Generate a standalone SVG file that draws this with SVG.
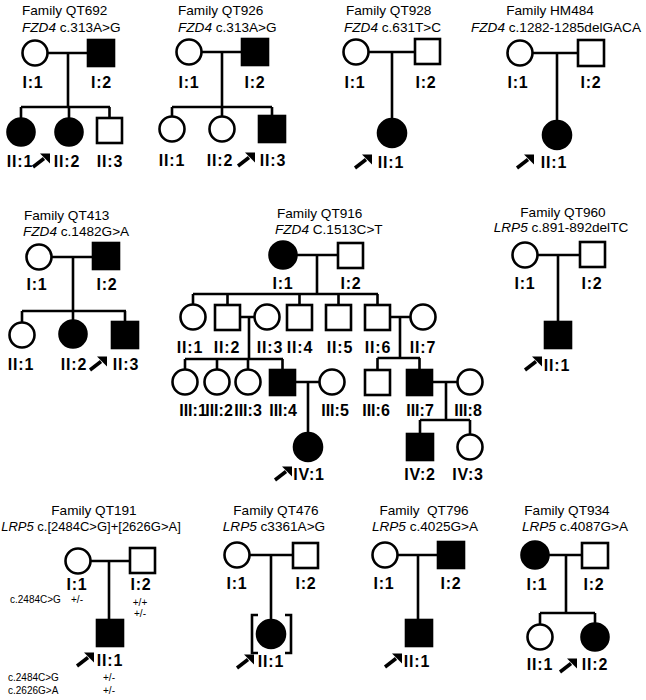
<svg xmlns="http://www.w3.org/2000/svg" xmlns:xlink="http://www.w3.org/1999/xlink" width="646" height="700" viewBox="0 0 646 700">
<style>
.c{stroke:#000;stroke-width:2.6;fill:none}
.o{fill:#fff;stroke:#000;stroke-width:2.6}
.f{fill:#000;stroke:#000;stroke-width:2.6}
text{font-family:"Liberation Sans",Arial,sans-serif;fill:#000}
.t{font-size:13.6px}
.m{text-anchor:middle}
.lab{font-size:16px;font-weight:bold;letter-spacing:0.8px;text-anchor:middle}
.l3{letter-spacing:0}
.s{font-size:10px}
</style>
<defs>
<g id="arr"><line x1="0" y1="0" x2="11" y2="-8.5" stroke="#000" stroke-width="3.5"/><polygon points="17,-13.5 7,-13.5 17,-3.5" fill="#000"/></g>
</defs>
<rect width="646" height="700" fill="#fff"/>

<g id="connectors">
<path class="c" d="M47,53H88M68,53V107M21,107H110M21,107V118M69,107V118M109.5,107V118"/>
<path class="c" d="M201,52H242M222,52V107M172,107H272M172,107V116M222,107V116M272,107V116"/>
<path class="c" d="M368,52H415M392,52V119"/>
<path class="c" d="M532,53H578M557,53V121"/>
<path class="c" d="M51,257H93M73,257V311M22,311H126M22,311V322M73,311V321M125,311V322"/>
<path class="c" d="M296,255H338M317,255V294M193,294H378M193,294V305M227.5,294V305M299.5,294V305M338.5,294V305M377.5,294V305"/>
<path class="c" d="M240,317H255M249,317V359M185,359H283M185,359V370M217,359V370M248,359V370M282.5,359V370"/>
<path class="c" d="M390,317H411M400,317V358M377.5,358H420M377.5,358V370M419.5,358V370"/>
<path class="c" d="M295,382H320M308,382V433"/>
<path class="c" d="M432,382H458M446,382V420M420,420H470M420,420V434M470,420V434"/>
<path class="c" d="M537,255H580M558,255V322"/>
<path class="c" d="M90,561H130M109,561V620"/>
<path class="c" d="M249,555H293M271,555V620"/>
<path class="c" d="M258,615H252V653H258M285,615H291V653H285"/>
<path class="c" d="M397,555H438M418,555V620"/>
<path class="c" d="M548,555H582M566,555V613M540,613H595M540,613V624M595,613V624"/>
</g>

<g id="QT692">
<text class="t" x="22" y="15">Family QT692</text>
<text class="t" x="22" y="32"><tspan font-style="italic">FZD4</tspan> c.313A&gt;G</text>
<g id="QT692-I1"><circle class="o" cx="35" cy="53" r="12.5"/><text class="lab" x="33" y="88">I:1</text></g>
<g id="QT692-I2"><rect class="f" x="88" y="40" width="26" height="26"/><text class="lab" x="101.5" y="88">I:2</text></g>
<g id="QT692-II1"><circle class="f" cx="21" cy="132" r="13.5"/><text class="lab" x="20" y="167">II:1</text></g>
<g id="QT692-II2"><circle class="f" cx="69" cy="132" r="13.5"/><text class="lab" x="67" y="167">II:2</text><use href="#arr" x="33" y="167"/></g>
<g id="QT692-II3"><rect class="o" x="97" y="118" width="25" height="25"/><text class="lab" x="110" y="167">II:3</text></g>
</g>

<g id="QT926">
<text class="t" x="178" y="15">Family QT926</text>
<text class="t" x="178" y="32"><tspan font-style="italic">FZD4</tspan> c.313A&gt;G</text>
<g id="QT926-I1"><circle class="o" cx="189" cy="52" r="12.5"/><text class="lab" x="189" y="88">I:1</text></g>
<g id="QT926-I2"><rect class="f" x="242" y="39" width="26" height="26"/><text class="lab" x="255" y="88">I:2</text></g>
<g id="QT926-II1"><circle class="o" cx="172" cy="129" r="12.5"/><text class="lab" x="172" y="166">II:1</text></g>
<g id="QT926-II2"><circle class="o" cx="222" cy="129" r="12.5"/><text class="lab" x="220" y="166">II:2</text></g>
<g id="QT926-II3"><rect class="f" x="259" y="116" width="26" height="26"/><text class="lab" x="273" y="166">II:3</text><use href="#arr" x="238" y="166"/></g>
</g>

<g id="QT928">
<text class="t" x="346" y="15">Family QT928</text>
<text class="t" x="344" y="32"><tspan font-style="italic">FZD4</tspan> c.631T&gt;C</text>
<g id="QT928-I1"><circle class="o" cx="356" cy="52" r="12.5"/><text class="lab" x="355" y="88">I:1</text></g>
<g id="QT928-I2"><rect class="o" x="415" y="39" width="25" height="25"/><text class="lab" x="426" y="88">I:2</text></g>
<g id="QT928-II1"><circle class="f" cx="392" cy="133" r="14"/><text class="lab" x="391" y="168">II:1</text><use href="#arr" x="355" y="168"/></g>
</g>

<g id="HM484">
<text class="t m" x="550" y="15">Family HM484</text>
<text class="t m" x="556" y="32"><tspan font-style="italic">FZD4</tspan> c.1282-1285delGACA</text>
<g id="HM484-I1"><circle class="o" cx="520" cy="53" r="12.5"/><text class="lab" x="518" y="88">I:1</text></g>
<g id="HM484-I2"><rect class="o" x="578" y="40" width="26" height="26"/><text class="lab" x="591" y="88">I:2</text></g>
<g id="HM484-II1"><circle class="f" cx="557" cy="135" r="14"/><text class="lab" x="554" y="168">II:1</text><use href="#arr" x="517" y="168"/></g>
</g>

<g id="QT413">
<text class="t" x="24" y="220">Family QT413</text>
<text class="t" x="23" y="236"><tspan font-style="italic">FZD4</tspan> c.1482G&gt;A</text>
<g id="QT413-I1"><circle class="o" cx="39" cy="257" r="12.5"/><text class="lab" x="37" y="290">I:1</text></g>
<g id="QT413-I2"><rect class="f" x="93" y="243" width="26" height="26"/><text class="lab" x="107" y="290">I:2</text></g>
<g id="QT413-II1"><circle class="o" cx="22" cy="335" r="12.5"/><text class="lab" x="21" y="370">II:1</text></g>
<g id="QT413-II2"><circle class="f" cx="73" cy="334" r="13.5"/><text class="lab" x="74" y="370">II:2</text></g>
<g id="QT413-II3"><rect class="f" x="112" y="322" width="26" height="26"/><text class="lab" x="126" y="370">II:3</text><use href="#arr" x="90" y="370"/></g>
</g>

<g id="QT916">
<text class="t" x="277" y="218">Family QT916</text>
<text class="t" x="275" y="234"><tspan font-style="italic">FZD4</tspan> C.1513C&gt;T</text>
<g id="QT916-I1"><circle class="f" cx="283" cy="255" r="13.5"/><text class="lab" x="283" y="289">I:1</text></g>
<g id="QT916-I2"><rect class="o" x="338" y="243" width="25" height="25"/><text class="lab" x="351" y="289">I:2</text></g>
<g id="QT916-II1"><circle class="o" cx="193" cy="317" r="12.5"/><text class="lab" x="190" y="353">II:1</text></g>
<g id="QT916-II2"><rect class="o" x="215" y="305" width="25" height="25"/><text class="lab" x="227" y="353">II:2</text></g>
<g id="QT916-II3"><circle class="o" cx="267" cy="317" r="12.5"/><text class="lab" x="270" y="353">II:3</text></g>
<g id="QT916-II4"><rect class="o" x="287" y="305" width="25" height="25"/><text class="lab" x="300" y="353">II:4</text></g>
<g id="QT916-II5"><rect class="o" x="326" y="305" width="25" height="25"/><text class="lab" x="340" y="353">II:5</text></g>
<g id="QT916-II6"><rect class="o" x="365" y="305" width="25" height="25"/><text class="lab" x="378" y="353">II:6</text></g>
<g id="QT916-II7"><circle class="o" cx="423" cy="317" r="12.5"/><text class="lab" x="423" y="353">II:7</text></g>
<g id="QT916-III1"><circle class="o" cx="185" cy="382" r="12.5"/><text class="lab l3" x="193" y="416">III:1</text></g>
<g id="QT916-III2"><circle class="o" cx="217" cy="382" r="12.5"/><text class="lab l3" x="219" y="416">III:2</text></g>
<g id="QT916-III3"><circle class="o" cx="248" cy="382" r="12.5"/><text class="lab l3" x="248" y="416">III:3</text></g>
<g id="QT916-III4"><rect class="f" x="270" y="370" width="25" height="25"/><text class="lab l3" x="283" y="416">III:4</text></g>
<g id="QT916-III5"><circle class="o" cx="332" cy="382" r="12.5"/><text class="lab l3" x="335" y="416">III:5</text></g>
<g id="QT916-III6"><rect class="o" x="365" y="370" width="25" height="25"/><text class="lab l3" x="376" y="416">III:6</text></g>
<g id="QT916-III7"><rect class="f" x="407" y="370" width="25" height="25"/><text class="lab l3" x="420" y="416">III:7</text></g>
<g id="QT916-III8"><circle class="o" cx="470" cy="382" r="12.5"/><text class="lab l3" x="468" y="416">III:8</text></g>
<g id="QT916-IV1"><circle class="f" cx="308" cy="447" r="14"/><text class="lab" x="309" y="480">IV:1</text><use href="#arr" x="275" y="480"/></g>
<g id="QT916-IV2"><rect class="f" x="407" y="434" width="26" height="26"/><text class="lab" x="420" y="480">IV:2</text></g>
<g id="QT916-IV3"><circle class="o" cx="470" cy="447" r="12.5"/><text class="lab" x="468" y="480">IV:3</text></g>
</g>

<g id="QT960">
<text class="t m" x="563" y="217">Family QT960</text>
<text class="t m" x="561" y="232"><tspan font-style="italic">LRP5</tspan> c.891-892delTC</text>
<g id="QT960-I1"><circle class="o" cx="525" cy="255" r="12.5"/><text class="lab" x="525" y="289">I:1</text></g>
<g id="QT960-I2"><rect class="o" x="580" y="242" width="25" height="25"/><text class="lab" x="592" y="289">I:2</text></g>
<g id="QT960-II1"><rect class="f" x="545" y="322" width="26" height="26"/><text class="lab" x="557" y="371">II:1</text><use href="#arr" x="525" y="370"/></g>
</g>

<g id="QT191">
<text class="t m" x="94" y="515">Family QT191</text>
<text class="m" font-size="13" x="91" y="531"><tspan font-style="italic">LRP5</tspan> c.[2484C&gt;G]+[2626G&gt;A]</text>
<g id="QT191-I1"><circle class="o" cx="78" cy="561" r="12.5"/><text class="lab" x="77" y="590">I:1</text>
<text class="s" x="10" y="603">c.2484C&gt;G</text><text class="s m" x="77" y="603">+/-</text></g>
<g id="QT191-I2"><rect class="o" x="130" y="548" width="25" height="25"/><text class="lab" x="141" y="590">I:2</text>
<text class="s m" x="140" y="606">+/+</text><text class="s m" x="140" y="617">+/-</text></g>
<g id="QT191-II1"><rect class="f" x="97" y="620" width="26" height="26"/><text class="lab" x="110" y="666">II:1</text><use href="#arr" x="77" y="666"/>
<text class="s" x="8" y="681">c.2484C&gt;G</text><text class="s m" x="109" y="681">+/-</text>
<text class="s" x="8" y="694">c.2626G&gt;A</text><text class="s m" x="109" y="694">+/-</text></g>
</g>

<g id="QT476">
<text class="t m" x="276" y="515">Family QT476</text>
<text class="t m" x="274" y="531"><tspan font-style="italic">LRP5</tspan> c3361A&gt;G</text>
<g id="QT476-I1"><circle class="o" cx="237" cy="555" r="12.5"/><text class="lab" x="237" y="589">I:1</text></g>
<g id="QT476-I2"><rect class="o" x="293" y="543" width="25" height="25"/><text class="lab" x="306" y="589">I:2</text></g>
<g id="QT476-II1"><circle class="f" cx="271" cy="634" r="14"/><text class="lab" x="271" y="667">II:1</text><use href="#arr" x="237" y="668"/></g>
</g>

<g id="QT796">
<text class="t m" x="424" y="515" xml:space="preserve">Family  QT796</text>
<text class="t m" x="425" y="531"><tspan font-style="italic">LRP5</tspan> c.4025G&gt;A</text>
<g id="QT796-I1"><circle class="o" cx="385" cy="555" r="12.5"/><text class="lab" x="384" y="589">I:1</text></g>
<g id="QT796-I2"><rect class="f" x="438" y="542" width="26" height="26"/><text class="lab" x="451" y="589">I:2</text></g>
<g id="QT796-II1"><rect class="f" x="406" y="620" width="26" height="26"/><text class="lab" x="417" y="667">II:1</text><use href="#arr" x="385" y="667"/></g>
</g>

<g id="QT934">
<text class="t m" x="567" y="515">Family QT934</text>
<text class="t m" x="575" y="531"><tspan font-style="italic">LRP5</tspan> c.4087G&gt;A</text>
<g id="QT934-I1"><circle class="f" cx="535" cy="555" r="13.5"/><text class="lab" x="537" y="590">I:1</text></g>
<g id="QT934-I2"><rect class="o" x="582" y="543" width="26" height="25"/><text class="lab" x="594" y="590">I:2</text></g>
<g id="QT934-II1"><circle class="o" cx="540" cy="637" r="12.5"/><text class="lab" x="540" y="670">II:1</text></g>
<g id="QT934-II2"><circle class="f" cx="595" cy="637" r="13.5"/><text class="lab" x="595" y="670">II:2</text><use href="#arr" x="560" y="672"/></g>
</g>
</svg>
